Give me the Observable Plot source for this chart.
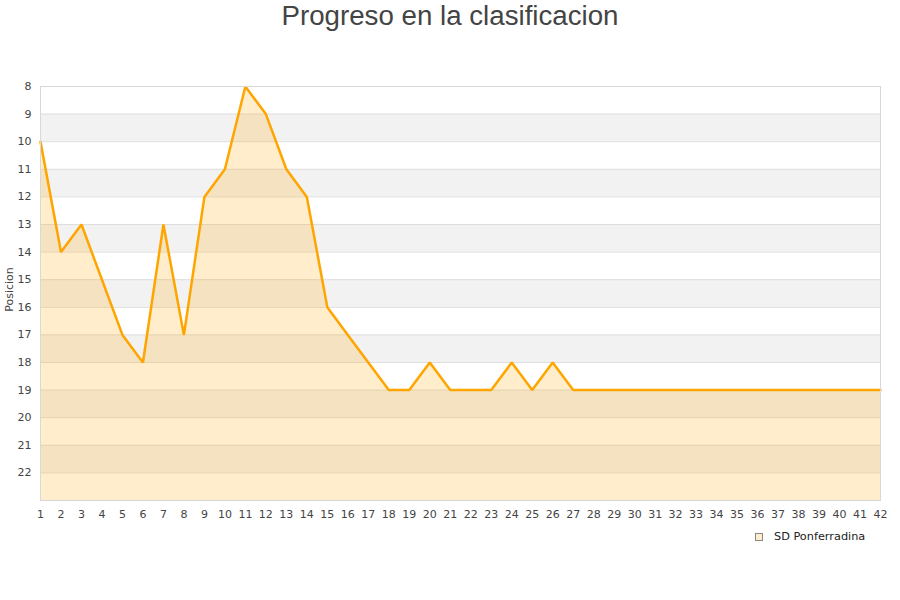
<!DOCTYPE html>
<html>
<head>
<meta charset="utf-8">
<script src="https://cdn.jsdelivr.net/npm/d3@7"></script>
<script src="https://cdn.jsdelivr.net/npm/@observablehq/plot@0.6"></script>
<style>
  html, body { margin: 0; padding: 0; background: #fff; }
  #wrap { position: relative; width: 900px; height: 600px; overflow: hidden; }
  #title { position: absolute; left: 0; top: 0; width: 900px; text-align: center;
           font-family: "Liberation Sans", Arial, sans-serif; font-size: 27.7px; color: #444; line-height: 32px; }
  #chart { position: absolute; left: 0; top: 50px; }
  #legend { position: absolute; left: 755px; top: 530px; font-family: "DejaVu Sans", sans-serif;
            font-size: 11.3px; color: #222; display: flex; align-items: center; }
  #legend .sw { width: 6px; height: 6px; border: 1px solid #888; background: #ffedcc; margin-right: 11px; }
</style>
</head>
<body>
<div id="wrap">
  <div id="title">Progreso en la clasificacion</div>
  <div id="chart"></div>
  <div id="legend"><span class="sw"></span><span>SD Ponferradina</span></div>
</div>
<script>
// Jornadas 1..42 and league position after each one
const jornadas = d3.range(1, 43);
const posiciones = [10, 14, 13, 15, 17, 18, 13, 17, 12, 11,
                    8, 9, 11, 12, 16, 17, 18, 19, 19, 18,
                    19, 19, 19, 18, 19, 18, 19, 19, 19, 19,
                    19, 19, 19, 19, 19, 19, 19, 19, 19, 19,
                    19, 19];
const equipo = "SD Ponferradina";
const yTicks = d3.range(8, 23);
const fondo = 23; // bottom of the position axis

const data = jornadas.map((j, i) => ({jornada: j, pos: posiciones[i]}));
// alternate shaded bands between position rows
const bands = yTicks.filter(t => t % 2 === 1 && t < fondo).map(t => ({y1: t, y2: t + 1}));

const chart = Plot.plot({
  width: 900,
  height: 550,
  marginLeft: 40,
  marginRight: 20,
  marginTop: 36,
  marginBottom: 100,
  style: {fontFamily: "DejaVu Sans, sans-serif", fontSize: "11px", color: "#444", background: "transparent"},
  x: {domain: [1, 42], label: null},
  y: {domain: [8, fondo], reverse: true, label: null},
  marks: [
    Plot.rectY(bands, {x1: 1, x2: 42, y1: "y1", y2: "y2", fill: "#f2f2f2"}),
    Plot.ruleY(yTicks, {stroke: "#dedede", strokeWidth: 1}),
    Plot.areaY(data, {x: "jornada", y1: fondo, y2: "pos", fill: "#ffa500", fillOpacity: 0.2}),
    Plot.lineY(data, {x: "jornada", y: "pos", stroke: "#ffa500", strokeWidth: 2.5, strokeLinejoin: "miter"}),
    Plot.frame({stroke: "#d8d8d8"}),
    Plot.axisX({ticks: jornadas, tickSize: 0, tickPadding: 10, tickFormat: d => String(d), fill: "#444"}),
    Plot.axisY({ticks: yTicks, tickSize: 0, tickPadding: 9, fill: "#444"}),
    Plot.text(["Posicion"], {frameAnchor: "left", textAnchor: "middle", dx: -31, dy: -4, rotate: -90, fill: "#444", fontSize: 11})
  ]
});
document.getElementById("chart").appendChild(chart);
</script>
</body>
</html>
